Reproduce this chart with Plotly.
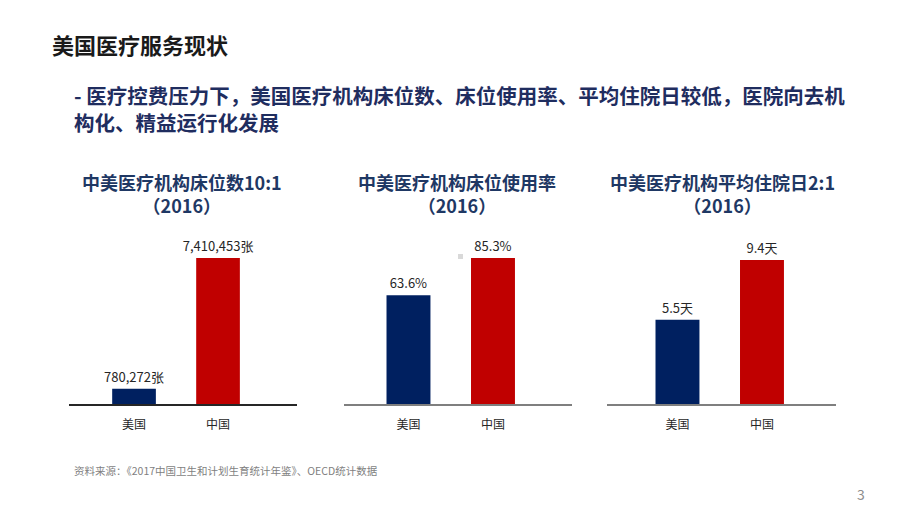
import plotly.graph_objects as go

W, H = 920, 518

categories = ["美国", "中国"]
beds = [780272, 7410453]
bed_labels = ["780,272张", "7,410,453张"]
occupancy = [63.6, 85.3]
occupancy_labels = ["63.6%", "85.3%"]
stay_days = [5.5, 9.4]
stay_labels = ["5.5天", "9.4天"]
chart_titles = ["中美医疗机构床位数10:1", "中美医疗机构床位使用率", "中美医疗机构平均住院日2:1"]
chart_year = "（2016）"
page_title = "美国医疗服务现状"
subtitle_lines = ["- 医疗控费压力下，美国医疗机构床位数、床位使用率、平均住院日较低，医院向去机",
                  "构化、精益运行化发展"]
source_note = "资料来源：《2017中国卫生和计划生育统计年鉴》、OECD统计数据"
page_no = "3"

bar_colors = ["#002060", "#C00000"]
FONT = "Noto Sans CJK SC, Microsoft YaHei, sans-serif"


def px(x):
    return x / W


def py(y):
    return 1 - y / H


series = [(beds, bed_labels), (occupancy, occupancy_labels), (stay_days, stay_labels)]
x_dom = [(69, 297), (344, 572), (607, 836)]
y_top = [258, 258, 260]
x_rng = [(-0.774, 1.94), (-0.763, 1.935), (-0.834, 1.876)]
line_cols = ["#262626", "#7f7f7f", "#7f7f7f"]
title_cx = [182, 457, 722]

fig = go.Figure()
layout = dict(
    width=W, height=H, margin=dict(l=0, r=0, t=0, b=0),
    paper_bgcolor="white", plot_bgcolor="white",
    showlegend=False, font=dict(family=FONT),
)

for i, (vals, labs) in enumerate(series):
    n = "" if i == 0 else str(i + 1)
    fig.add_trace(go.Bar(
        x=categories, y=vals, text=labs, textposition="outside",
        constraintext="none",
        textfont=dict(size=13, color="#262626", family=FONT),
        marker=dict(color=bar_colors, line=dict(width=0)),
        width=0.52, cliponaxis=False,
        xaxis="x" + n, yaxis="y" + n,
    ))
    layout["xaxis" + n] = dict(
        domain=[px(x_dom[i][0]), px(x_dom[i][1])], anchor="y" + n,
        range=list(x_rng[i]), showline=True, linecolor=line_cols[i], linewidth=1.5,
        showgrid=False, zeroline=False, ticks="outside", ticklen=9,
        tickcolor="rgba(0,0,0,0)",
        tickfont=dict(size=12, color="#262626", family=FONT), fixedrange=True,
    )
    layout["yaxis" + n] = dict(
        domain=[py(404), py(y_top[i])], anchor="x" + n,
        range=[0, max(vals)], visible=False, showgrid=False, zeroline=False,
        fixedrange=True,
    )

annotations = []
annotations.append(dict(text="<b>" + page_title + "</b>", x=px(50), y=py(44), xref="paper", yref="paper",
                        xanchor="left", yanchor="middle", showarrow=False,
                        font=dict(size=22, color="#1a1a1a", family=FONT)))
annotations.append(dict(text="<br>".join("<b>" + s + "</b>" for s in subtitle_lines),
                        x=px(72), y=py(108), xref="paper", yref="paper",
                        xanchor="left", yanchor="middle", align="left", showarrow=False,
                        font=dict(size=20.5, color="#1F2D5F", family=FONT)))
for i, t in enumerate(chart_titles):
    annotations.append(dict(text="<b>" + t + "</b><br><b>" + chart_year + "</b>",
                            x=px(title_cx[i]), y=py(193.5), xref="paper", yref="paper",
                            xanchor="center", yanchor="middle", align="center", showarrow=False,
                            font=dict(size=18, color="#1F3864", family=FONT)))
annotations.append(dict(text=source_note, x=px(72), y=py(470), xref="paper", yref="paper",
                        xanchor="left", yanchor="middle", showarrow=False,
                        font=dict(size=10.5, color="#7f7f7f", family=FONT)))
annotations.append(dict(text=page_no, x=px(861), y=py(494), xref="paper", yref="paper",
                        xanchor="center", yanchor="middle", showarrow=False,
                        font=dict(size=14, color="#8c8c8c", family=FONT)))
layout["annotations"] = annotations
layout["shapes"] = [dict(type="rect", xref="paper", yref="paper",
                         x0=px(458), x1=px(463), y0=py(259), y1=py(254),
                         fillcolor="#d9d9d9", line=dict(width=0))]

fig.update_layout(**layout)
fig.write_html("out.html")
